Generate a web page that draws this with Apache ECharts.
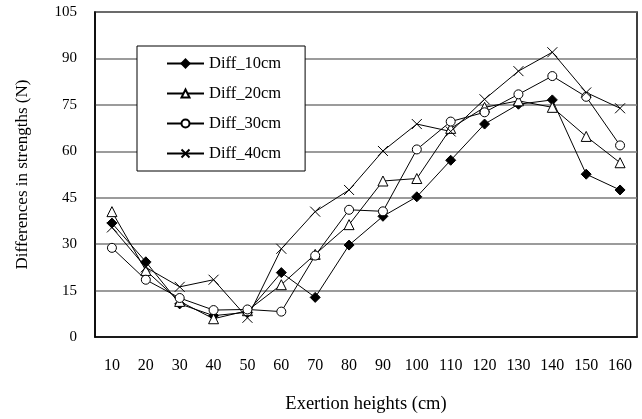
<!DOCTYPE html>
<html>
<head>
<meta charset="utf-8">
<script src="https://cdn.jsdelivr.net/npm/echarts@6/dist/echarts.min.js"></script>
<style>
    html, body { margin: 0; padding: 0; background: #fff; }
    #chart { width: 642px; height: 419px; }
</style>
</head>
<body>
<div id="chart"></div>
<script>
    // 横轴类别 (cm)
    var heights = ['10', '20', '30', '40', '50', '60', '70', '80', '90', '100', '110', '120', '130', '140', '150', '160']

    var diff10 = [36.8, 24.3, 10.7, 6.9, 8.0, 20.8, 12.8, 29.7, 39.0, 45.3, 57.1, 68.8, 75.2, 76.6, 52.6, 47.5]
    var diff20 = [40.5, 21.5, 11.5, 5.9, 8.5, 16.9, 26.7, 36.3, 50.4, 51.2, 67.4, 74.2, 76.3, 74.2, 64.8, 56.3]
    var diff30 = [28.8, 18.5, 12.6, 8.7, 8.9, 8.2, 26.3, 41.1, 40.6, 60.6, 69.6, 72.6, 78.4, 84.3, 77.6, 61.9]
    var diff40 = [35.4, 22.5, 16.2, 18.5, 6.2, 28.5, 40.5, 47.5, 60.1, 68.8, 66.4, 76.8, 85.9, 92.0, 79.0, 73.9]

    var seriesNames = ['Diff_10cm', 'Diff_20cm', 'Diff_30cm', 'Diff_40cm']

    var font = '"Liberation Serif", "DejaVu Serif", serif'
    var cross = 'path://M0,0L10,10M10,0L0,10'

    function makeSeries(name, data, symbol, size, fill) {
        return {
            name: name,
            type: 'line',
            data: data,
            symbol: symbol,
            symbolSize: size,
            showAllSymbol: true,
            lineStyle: {color: '#000', width: 1},
            itemStyle: {color: fill, borderColor: '#000', borderWidth: 1},
            emphasis: {disabled: true}
        }
    }

    var chart = echarts.init(document.getElementById('chart'))
    chart.setOption({
        animation: false,
        textStyle: {fontFamily: font},
        grid: {
            left: 95, right: 5, top: 12, bottom: 79,
            show: true, borderColor: '#000', borderWidth: 1.5
        },
        legend: {
            orient: 'vertical',
            left: 137, top: 46,
            width: 166,
            padding: [9, 24, 9, 29],
            itemGap: 13,
            itemWidth: 37, itemHeight: 10,
            backgroundColor: '#fff',
            borderColor: '#000', borderWidth: 1,
            textStyle: {fontFamily: font, fontSize: 16.5, color: '#000'},
            data: seriesNames
        },
        xAxis: {
            type: 'category',
            data: heights,
            name: 'Exertion heights (cm)',
            nameLocation: 'middle',
            nameGap: 58,
            nameTextStyle: {fontFamily: font, fontSize: 18.5, color: '#000'},
            axisLine: {lineStyle: {color: '#000', width: 1.5}},
            axisTick: {inside: true, length: 6, lineStyle: {color: '#000'}},
            axisLabel: {fontFamily: font, fontSize: 16, color: '#000', margin: 21, interval: 0}
        },
        yAxis: {
            type: 'value',
            min: 0, max: 105, interval: 15,
            name: 'Differences in strengths (N)',
            nameLocation: 'middle',
            nameGap: 64,
            nameTextStyle: {fontFamily: font, fontSize: 17, color: '#000'},
            axisLine: {show: true, lineStyle: {color: '#000', width: 1.5}},
            axisTick: {show: false},
            axisLabel: {fontFamily: font, fontSize: 15, color: '#000', margin: 18},
            splitLine: {lineStyle: {color: '#7a7a7a', width: 1.5}}
        },
        series: [
            makeSeries(seriesNames[0], diff10, 'diamond', 10, '#000'),
            makeSeries(seriesNames[1], diff20, 'triangle', 10, '#fff'),
            makeSeries(seriesNames[2], diff30, 'circle', 9, '#fff'),
            makeSeries(seriesNames[3], diff40, cross, 10, 'none')
        ]
    })
</script>
</body>
</html>
